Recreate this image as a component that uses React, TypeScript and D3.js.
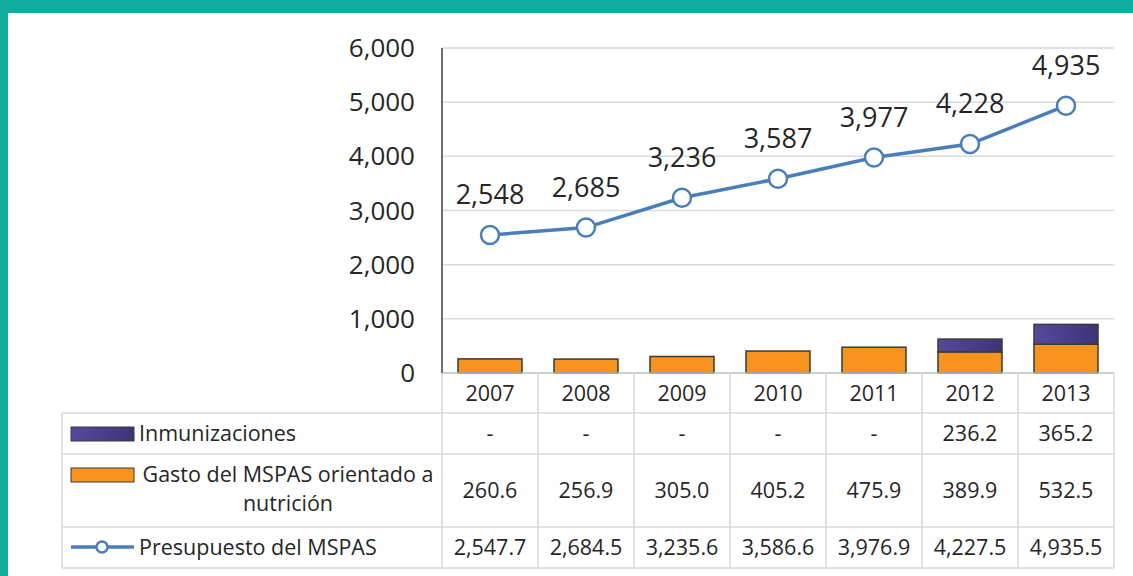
import React from 'react'
import * as d3 from 'd3'

const years = ['2007', '2008', '2009', '2010', '2011', '2012', '2013']
const inmunizaciones: (number | null)[] = [null, null, null, null, null, 236.2, 365.2]
const gasto = [260.6, 256.9, 305.0, 405.2, 475.9, 389.9, 532.5]
// 2013: the label reads 4,935 while the table reads 4,935.5
const presupuesto = [2547.7, 2684.5, 3235.6, 3586.6, 3976.9, 4227.5, 4935.46]
const yTicks = [0, 1000, 2000, 3000, 4000, 5000, 6000]

const W = 1133
const H = 576
const font = "'Open Sans', 'Noto Sans', sans-serif"
const txt = '#262626'
const grid = '#d9d9d9'
const orange = '#f7931e'
const blue = '#4a7ebb'

export default function App() {
    const x = d3.scaleBand<string>().domain(years).range([442, 1114]).padding(0)
    const y = d3.scaleLinear().domain([0, 6000]).range([373, 48])
    const bw = x.bandwidth() * 2 / 3
    const cx = (d: string) => (x(d) as number) + x.bandwidth() / 2
    const fmt0 = d3.format(',.0f')
    const fmt1 = d3.format(',.1f')

    const line = d3.line<number>()
        .x((d, i) => cx(years[i]))
        .y(d => y(d))

    // table rows
    const rowTop = [373, 413, 454, 527, 568]
    const tableLeft = 62

    return (
        <svg width={W} height={H} style={{ position: 'absolute', left: 0, top: 0, background: '#fff' }}
            fontFamily={font}>
            <defs>
                <linearGradient id="purp" x1="0" x2="1" y1="0" y2="0">
                    <stop offset="0" stopColor="#56499d" />
                    <stop offset="1" stopColor="#3e3477" />
                </linearGradient>
            </defs>
            <rect x={0} y={0} width={W} height={13} fill="#12ad9e" />
            <rect x={0} y={0} width={8} height={H} fill="#12ad9e" />

            {/* gridlines */}
            {yTicks.filter(t => t > 0).map(t => (
                <line key={t} x1={442} x2={1114} y1={y(t)} y2={y(t)} stroke={grid} strokeWidth={1.5} />
            ))}
            {yTicks.map(t => (
                <text key={'l' + t} x={415} y={y(t)} dy="0.35em" textAnchor="end" fontSize={26} fill={txt}>
                    {fmt0(t)}
                </text>
            ))}

            {/* bars */}
            {years.map((yr, i) => {
                const g = gasto[i]
                const im = inmunizaciones[i]
                return (
                    <g key={yr}>
                        <rect x={cx(yr) - bw / 2} y={y(g)} width={bw} height={y(0) - y(g)}
                            fill={orange} stroke="#3a3a3a" strokeWidth={1.5} />
                        {im != null && (
                            <rect x={cx(yr) - bw / 2} y={y(g + im)} width={bw} height={y(g) - y(g + im)}
                                fill="url(#purp)" stroke="#3a3a3a" strokeWidth={1.5} />
                        )}
                    </g>
                )
            })}

            {/* axes */}
            <line x1={442} x2={1114} y1={y(0)} y2={y(0)} stroke="#bfbfbf" strokeWidth={1.5} />
            <line x1={442} x2={442} y1={y(6000)} y2={y(0)} stroke="#404040" strokeWidth={1.5} />

            {/* line series */}
            <path d={line(presupuesto) || ''} fill="none" stroke={blue} strokeWidth={3.5} />
            {presupuesto.map((v, i) => (
                <g key={'p' + i}>
                    <circle cx={cx(years[i])} cy={y(v)} r={9} fill="#fff" stroke={blue} strokeWidth={2.5} />
                    <text x={cx(years[i])} y={y(v) - 31} textAnchor="middle" fontSize={27} fill={txt}>
                        {fmt0(v)}
                    </text>
                </g>
            ))}

            {/* data table */}
            <g stroke={grid} strokeWidth={1.5}>
                {rowTop.slice(1).map(r => (
                    <line key={'h' + r} x1={tableLeft} x2={1114} y1={r} y2={r} />
                ))}
                <line x1={tableLeft} x2={tableLeft} y1={rowTop[1]} y2={rowTop[4]} />
                {years.map(yr => (
                    <line key={'v' + yr} x1={x(yr) as number} x2={x(yr) as number} y1={rowTop[0]} y2={rowTop[4]} />
                ))}
                <line x1={1114} x2={1114} y1={rowTop[0]} y2={rowTop[4]} />
            </g>

            {years.map((yr, i) => (
                <g key={'t' + yr} fontSize={21.5} fill={txt} textAnchor="middle">
                    <text x={cx(yr)} y={(rowTop[0] + rowTop[1]) / 2} dy="0.36em">{yr}</text>
                    <text x={cx(yr)} y={(rowTop[1] + rowTop[2]) / 2} dy="0.36em">
                        {inmunizaciones[i] == null ? '-' : fmt1(inmunizaciones[i] as number)}
                    </text>
                    <text x={cx(yr)} y={(rowTop[2] + rowTop[3]) / 2} dy="0.36em">{fmt1(gasto[i])}</text>
                    <text x={cx(yr)} y={(rowTop[3] + rowTop[4]) / 2} dy="0.36em">{fmt1(presupuesto[i])}</text>
                </g>
            ))}

            {/* legend keys in the table */}
            <rect x={71} y={427} width={63} height={14} fill="url(#purp)" stroke="#3a3a3a" strokeWidth={1} />
            <text x={139} y={(rowTop[1] + rowTop[2]) / 2} dy="0.36em" fontSize={21.5} fill={txt}>Inmunizaciones</text>

            <rect x={71} y={468} width={63} height={14} fill={orange} stroke="#3a3a3a" strokeWidth={1} />
            <text x={288} y={482} textAnchor="middle" fontSize={21.5} fill={txt}>Gasto del MSPAS orientado a</text>
            <text x={288} y={511} textAnchor="middle" fontSize={21.5} fill={txt}>nutrición</text>

            <line x1={71} x2={134} y1={547} y2={547} stroke={blue} strokeWidth={3.5} />
            <circle cx={102} cy={547} r={5.5} fill="#fff" stroke={blue} strokeWidth={2.5} />
            <text x={139} y={(rowTop[3] + rowTop[4]) / 2} dy="0.36em" fontSize={21.5} fill={txt}>Presupuesto del MSPAS</text>
        </svg>
    )
}
